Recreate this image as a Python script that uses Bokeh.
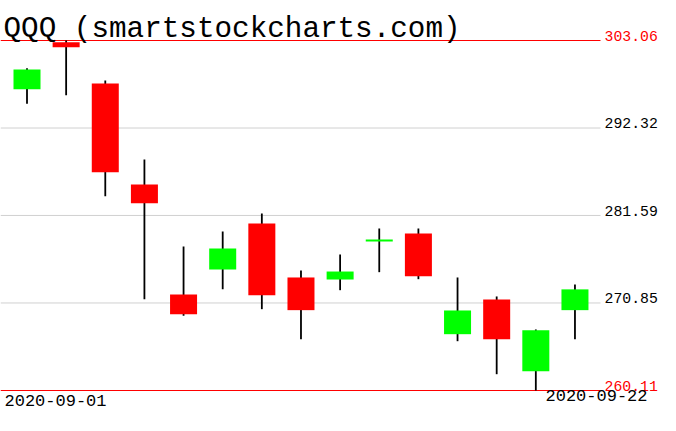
from bokeh.plotting import figure
from bokeh.models import Range1d, Label, ColumnDataSource
from bokeh.embed import file_html
from bokeh.resources import INLINE

# ---- data ----
title_text = "QQQ (smartstockcharts.com)"
dates = ["2020-09-01", "2020-09-02", "2020-09-03", "2020-09-04", "2020-09-08",
         "2020-09-09", "2020-09-10", "2020-09-11", "2020-09-14", "2020-09-15",
         "2020-09-16", "2020-09-17", "2020-09-18", "2020-09-21", "2020-09-22"]
opens = [297.09, 302.85, 297.78, 285.39, 271.89, 274.96, 280.60, 273.98,
         273.73, 278.39, 279.38, 267.02, 271.28, 262.48, 269.97]
closes = [299.50, 302.24, 286.90, 283.09, 269.47, 277.54, 271.80, 269.97,
          274.71, 278.64, 274.14, 269.93, 266.41, 267.51, 272.52]
highs = [299.66, 303.06, 298.15, 288.46, 277.78, 279.62, 281.83, 274.84,
         276.80, 279.99, 279.99, 273.98, 271.65, 267.60, 273.12]
lows = [295.29, 296.35, 283.95, 271.31, 269.28, 272.54, 270.09, 266.41,
        272.42, 274.63, 273.77, 266.16, 262.11, 260.11, 266.41]
edge_levels = [303.06, 260.11]
grid_levels = [292.32, 281.59, 270.85]

# ---- layout ----
W, H = 660, 415
step_px = 39.14          # pixels per candle slot
first_px = 26.5          # pixel centre of first candle
plot_right_px = 600      # where the horizontal lines end
top_px, bottom_px = 40, 390  # pixel y of the max / min edge levels
FONT = "Liberation Mono"
BASE_SHIFT = 0.33        # baseline correction, in em

ppp = (max(edge_levels) - min(edge_levels)) / (bottom_px - top_px)
y_top = max(edge_levels) + top_px * ppp
y_bot = y_top - H * ppp
x_start = -first_px / step_px
x_end = x_start + W / step_px
x_line_end = x_start + plot_right_px / step_px

p = figure(width=W, height=H, output_backend="svg", toolbar_location=None,
           x_range=Range1d(x_start, x_end), y_range=Range1d(y_bot, y_top),
           min_border=0, min_border_left=0, min_border_right=0,
           min_border_top=0, min_border_bottom=0)
p.xaxis.visible = False
p.yaxis.visible = False
p.grid.visible = False
p.outline_line_color = None
p.background_fill_color = "white"
p.border_fill_color = "white"

# horizontal lines
p.segment(x0=[x_start] * len(grid_levels), x1=[x_line_end] * len(grid_levels),
          y0=grid_levels, y1=grid_levels, line_color="#d0d0d0", line_width=1)
p.segment(x0=[x_start] * len(edge_levels), x1=[x_line_end] * len(edge_levels),
          y0=edge_levels, y1=edge_levels, line_color="#ff0000", line_width=1)

idx = list(range(len(dates)))
colors = ["#00ff00" if c >= o else "#ff0000" for o, c in zip(opens, closes)]
src = ColumnDataSource(dict(
    x=idx, open=opens, close=closes, high=highs, low=lows,
    top=[max(o, c) for o, c in zip(opens, closes)],
    bottom=[min(o, c) for o, c in zip(opens, closes)],
    color=colors))

p.segment(x0="x", x1="x", y0="low", y1="high", source=src,
          line_color="black", line_width=1.8)
p.vbar(x="x", width=0.69, top="top", bottom="bottom", source=src,
       fill_color="color", line_color=None)


def add_text(text, x, y, size, color="black", align="left", y_units="screen"):
    p.add_layout(Label(x=x, y=y, x_units="screen", y_units=y_units,
                       y_offset=BASE_SHIFT * size,
                       text=text, text_font=FONT,
                       text_font_size=f"{size}px", text_color=color,
                       text_align=align, text_baseline="alphabetic"))


# title
add_text(title_text, 3, H - 39, 29.3)

# right-hand price labels
for lv in edge_levels:
    add_text(f"{lv:.2f}", 604, lv, 14.8, color="#ff0000", y_units="data")
for lv in grid_levels:
    add_text(f"{lv:.2f}", 604, lv, 14.8, y_units="data")

# date labels
add_text(dates[0], 4, H - 406, 17)
add_text(dates[-1], 647, H - 401, 17, align="right")

open("out.html", "w").write(file_html(p, INLINE))
